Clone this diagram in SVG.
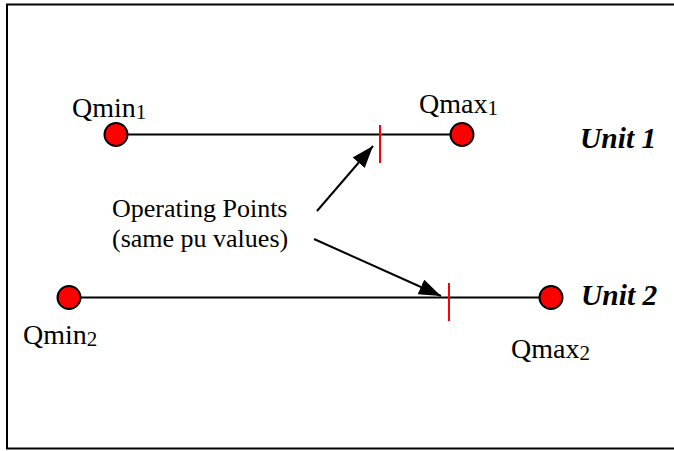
<svg xmlns="http://www.w3.org/2000/svg" width="674" height="451" viewBox="0 0 674 451">
<style>
text{font-family:'Liberation Serif','Times New Roman',serif;fill:#000}
.lbl{font-size:26px}
.q{font-size:28px}
.sub{font-size:21px}
.unit{font-size:29.5px;font-weight:bold;font-style:italic}
.line{stroke:#000;stroke-width:2;fill:none}
.tick{stroke:#ff0000;stroke-width:2}
.pt{fill:#ff0000;stroke:#000;stroke-width:2}
</style>
<defs>
<marker id="ah" markerUnits="userSpaceOnUse" markerWidth="24" markerHeight="18" refX="22" refY="8" orient="auto">
<path d="M0,0 L22,8 L0,16 z" fill="#000"/>
</marker>
</defs>
<rect x="7" y="4.5" width="700" height="444" fill="#fff" stroke="#000" stroke-width="2"/>
<g id="connectors">
<line class="line" x1="116" y1="134.5" x2="462" y2="134.5"/>
<line class="line" x1="69" y1="297.5" x2="551" y2="297.5"/>
<line class="line" x1="317" y1="211" x2="373" y2="146" marker-end="url(#ah)"/>
<line class="line" x1="314" y1="239" x2="441" y2="296" marker-end="url(#ah)"/>
</g>
<g id="op1"><line class="tick" x1="380" y1="125" x2="380" y2="163"/></g>
<g id="op2"><line class="tick" x1="449" y1="283" x2="449" y2="321"/></g>
<g id="qmin1">
<circle class="pt" cx="116" cy="134.5" r="11.5"/>
<text class="q" x="72" y="117">Qmin<tspan class="sub" dy="2">1</tspan></text>
</g>
<g id="qmax1">
<circle class="pt" cx="462" cy="134.5" r="11.5"/>
<text class="q" x="419" y="113">Qmax<tspan class="sub" dy="2">1</tspan></text>
</g>
<g id="qmin2">
<circle class="pt" cx="69" cy="297.5" r="11.5"/>
<text class="q" x="23" y="344">Qmin<tspan class="sub" dy="2">2</tspan></text>
</g>
<g id="qmax2">
<circle class="pt" cx="551" cy="297.5" r="11.5"/>
<text class="q" x="511" y="358">Qmax<tspan class="sub" dy="2">2</tspan></text>
</g>
<g id="unit1"><text class="unit" x="580" y="147.5">Unit 1</text></g>
<g id="unit2"><text class="unit" x="581" y="304.5">Unit 2</text></g>
<g id="oplabel">
<text class="lbl" x="112" y="217">Operating Points</text>
<text class="lbl" x="112" y="247">(same pu values)</text>
</g>
</svg>
